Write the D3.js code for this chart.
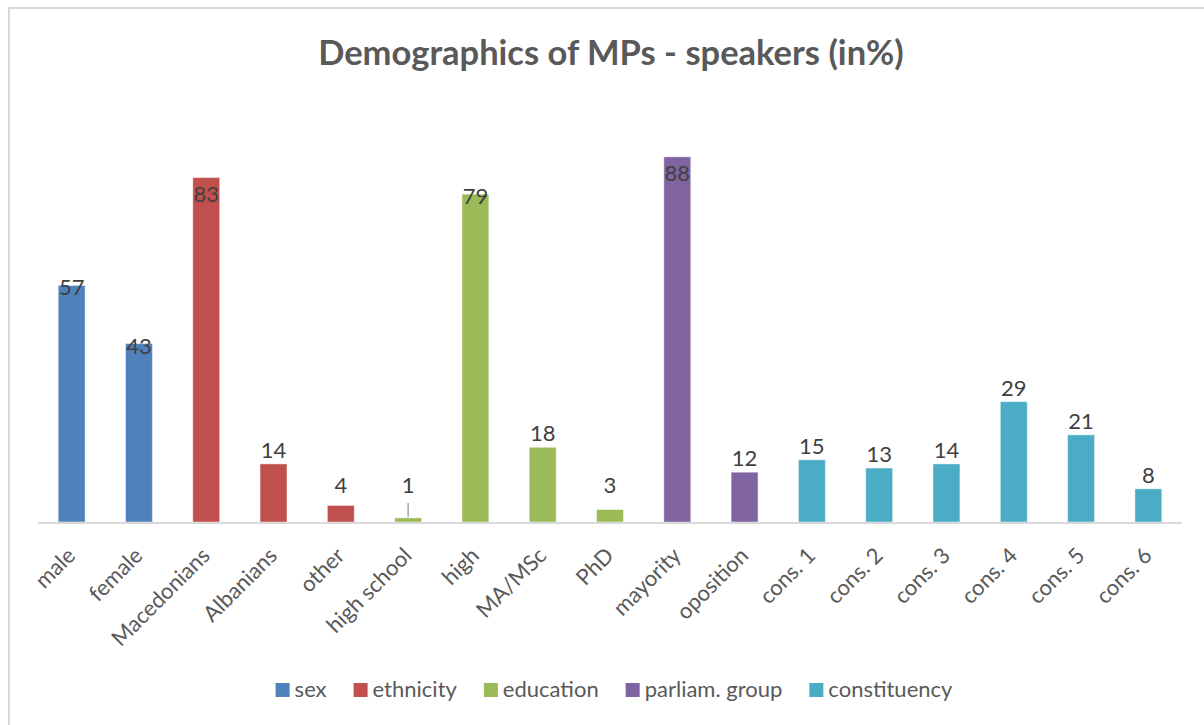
<!DOCTYPE html>
<html>
<head>
<meta charset="utf-8">
<script src="https://cdn.jsdelivr.net/npm/d3@7"></script>
<style>
  html, body { margin: 0; padding: 0; background: #fff; }
  svg { display: block; font-family: Lato, "Open Sans", sans-serif; }
</style>
</head>
<body>
<svg id="chart" width="1204" height="725"></svg>
<script>
// categories along the x axis, in order
const categories = ["male", "female", "Macedonians", "Albanians", "other", "high school",
  "high", "MA/MSc", "PhD", "mayority", "oposition",
  "cons. 1", "cons. 2", "cons. 3", "cons. 4", "cons. 5", "cons. 6"];
// percentage of speakers per category
const values = [57, 43, 83, 14, 4, 1, 79, 18, 3, 88, 12, 15, 13, 14, 29, 21, 8];
// group each category belongs to
const groupOf = ["sex", "sex", "ethnicity", "ethnicity", "ethnicity", "education",
  "education", "education", "education", "parliam. group", "parliam. group",
  "constituency", "constituency", "constituency", "constituency", "constituency", "constituency"];
const groups = ["sex", "ethnicity", "education", "parliam. group", "constituency"];
const groupColors = ["#4F81BD", "#C0504D", "#9BBB59", "#8064A2", "#4BACC6"];

const data = categories.map((c, i) => ({ cat: c, value: values[i], group: groupOf[i] }));

const svg = d3.select("#chart");
const W = 1204, H = 725;

// chart frame (only the left and top edges are in view)
svg.append("rect")
  .attr("x", 9).attr("y", 8)
  .attr("width", W + 20).attr("height", H + 20)
  .attr("fill", "none").attr("stroke", "#d9d9d9").attr("stroke-width", 2);

const x = d3.scaleBand()
  .domain(categories)
  .range([38, 1182])
  .paddingInner(0.6)
  .paddingOuter(0.3);

const y = d3.scaleLinear().domain([0, 100]).range([522, 107]);
const color = d3.scaleOrdinal().domain(groups).range(groupColors);

// title
svg.append("text")
  .attr("x", 611).attr("y", 65)
  .attr("text-anchor", "middle")
  .attr("font-weight", "bold")
  .attr("font-size", 34.5)
  .attr("fill", "#595959")
  .text("Demographics of MPs - speakers (in%)");

// bars
svg.append("g").selectAll("rect")
  .data(data)
  .join("rect")
  .attr("x", d => x(d.cat))
  .attr("y", d => y(d.value))
  .attr("width", x.bandwidth())
  .attr("height", d => y(0) - y(d.value))
  .attr("fill", d => color(d.group))
  .attr("stroke", "#fff").attr("stroke-opacity", 0.45).attr("stroke-width", 1);

// x axis line
svg.append("line")
  .attr("x1", 38).attr("x2", 1182)
  .attr("y1", y(0) + 1).attr("y2", y(0) + 1)
  .attr("stroke", "#d9d9d9").attr("stroke-width", 2);

// value labels (placed the way the source chart has them)
function labelBase(v) {
  const top = y(v);
  if (v >= 80) return top + 24;
  if (v >= 40) return top + 10;
  return Math.min(top - 6, y(7));
}
const lab = svg.append("g");
data.forEach(d => {
  const cx = x(d.cat) + x.bandwidth() / 2;
  const b = labelBase(d.value);
  lab.append("text")
    .attr("x", cx).attr("y", b)
    .attr("text-anchor", "middle")
    .attr("font-size", 22)
    .attr("fill", "#404040")
    .text(d.value);
  if (y(d.value) - b > 20) {
    lab.append("line")
      .attr("x1", cx).attr("x2", cx)
      .attr("y1", b + 10).attr("y2", y(d.value) - 1)
      .attr("stroke", "#a6a6a6").attr("stroke-width", 1.5);
  }
});

// category labels, rotated
svg.append("g").selectAll("text")
  .data(categories)
  .join("text")
  .attr("transform", c => `translate(${x(c) + x.bandwidth() / 2 + 5},557) rotate(-45)`)
  .attr("text-anchor", "end")
  .attr("font-size", 22)
  .attr("fill", "#595959")
  .text(c => c);

// legend
const leg = svg.append("g");
let lx = 0;
groups.forEach((g, i) => {
  const item = leg.append("g").attr("transform", `translate(${lx},0)`);
  item.append("rect").attr("x", 0).attr("y", -14).attr("width", 14).attr("height", 14)
    .attr("fill", groupColors[i]);
  const t = item.append("text").attr("x", 19).attr("y", 0)
    .attr("font-size", 22).attr("fill", "#595959").text(g);
  lx += 19 + t.node().getComputedTextLength() + 27;
});
const legW = lx - 27;
leg.attr("transform", `translate(${614 - legW / 2},697)`);
</script>
</body>
</html>
